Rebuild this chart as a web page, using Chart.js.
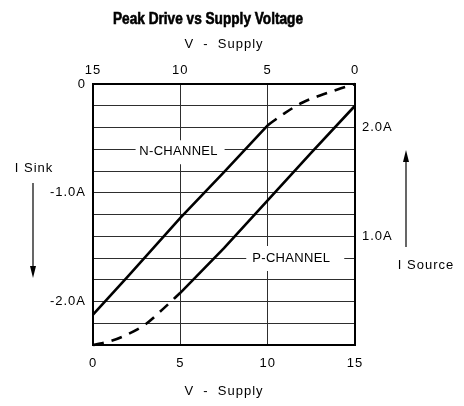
<!DOCTYPE html>
<html>
<head>
<meta charset="utf-8">
<script src="https://cdn.jsdelivr.net/npm/chart.js@4.4.1/dist/chart.umd.min.js"></script>
<style>
  html, body { margin: 0; padding: 0; background: #fff; }
  #wrap { width: 464px; height: 406px; }
</style>
</head>
<body>
<div id="wrap"><canvas id="driveChart" width="464" height="406"></canvas></div>
<script>
// N-channel sink current (top V axis, left I axis)
const nSolidVolts = [15, 13, 10, 7.5, 5];
const nSolidAmps  = [-2.12, -1.77, -1.23, -0.81, -0.38];
const nDashVolts  = [5, 4, 3, 2, 1, 0];
const nDashAmps   = [-0.38, -0.265, -0.17, -0.105, -0.05, 0];

// P-channel source current (bottom V axis, right I axis)
const pDashVolts  = [0, 1, 2, 3, 4, 5];
const pDashAmps   = [0, 0.035, 0.10, 0.19, 0.33, 0.48];
const pSolidVolts = [5, 7.5, 10, 12.5, 15];
const pSolidAmps  = [0.48, 0.89, 1.33, 1.77, 2.2];

const voltTicks = [0, 5, 10, 15];
const sinkLabels = { '0': '0', '-1': '-1.0A', '-2': '-2.0A' };
const sourceLabels = { '1': '1.0A', '2': '2.0A' };

const tickFont = { family: "'Liberation Sans', Arial, sans-serif", size: 13 };
const gridColor = '#2e2e2e';

function pts(xs, ys) {
  return xs.map((x, i) => ({ x: x, y: ys[i] }));
}
function key(v) {
  return String(Math.round(v * 10) / 10);
}

function drawArrow(ctx, x, y0, y1) {
  const dir = y1 > y0 ? 1 : -1;
  ctx.beginPath();
  ctx.moveTo(x, y0);
  ctx.lineTo(x, y1 - dir * 8);
  ctx.stroke();
  ctx.beginPath();
  ctx.moveTo(x, y1);
  ctx.lineTo(x - 3, y1 - dir * 12);
  ctx.lineTo(x + 3, y1 - dir * 12);
  ctx.closePath();
  ctx.fill();
}

function labelBox(ctx, text, cx, cy, left, right, top, bottom) {
  ctx.fillStyle = '#fff';
  ctx.fillRect(cx - left, cy - top, left + right, top + bottom);
  ctx.fillStyle = '#000';
  ctx.textAlign = 'center';
  ctx.textBaseline = 'middle';
  ctx.fillText(text, cx, cy);
}

const extras = {
  id: 'extras',
  beforeDraw(chart) {
    chart.ctx.letterSpacing = '1px';
  },
  beforeDatasetsDraw(chart) {
    const ctx = chart.ctx;
    const xb = chart.scales.x, xt = chart.scales.x2;
    const yl = chart.scales.y, yr = chart.scales.y2;
    ctx.save();
    ctx.letterSpacing = '0.3px';
    ctx.font = "13px 'Liberation Sans', Arial, sans-serif";
    // channel labels sit on grid lines and blank them out
    labelBox(ctx, 'N-CHANNEL', xt.getPixelForValue(10.1), yl.getPixelForValue(-0.6) + 2, 43, 46, 11, 13);
    labelBox(ctx, 'P-CHANNEL', xb.getPixelForValue(11.35), yr.getPixelForValue(0.8), 45, 53, 12, 13);
    ctx.restore();
  },
  afterDraw(chart) {
    const ctx = chart.ctx;
    const a = chart.chartArea;
    ctx.save();
    ctx.fillStyle = '#000';
    ctx.strokeStyle = '#000';
    ctx.lineWidth = 1.2;
    ctx.letterSpacing = '1px';
    ctx.font = "13px 'Liberation Sans', Arial, sans-serif";
    ctx.textAlign = 'center';
    ctx.textBaseline = 'middle';
    ctx.fillText('I Sink', a.left - 59, a.top + 84);
    drawArrow(ctx, a.left - 60, a.top + 99, a.top + 194);
    ctx.fillText('I Source', a.right + 71, a.top + 181);
    drawArrow(ctx, a.right + 51, a.top + 163, a.top + 66);

    // condensed bold title
    ctx.letterSpacing = '0px';
    ctx.font = "bold 16px 'Liberation Sans', Arial, sans-serif";
    const title = 'Peak Drive vs Supply Voltage';
    const w = ctx.measureText(title).width;
    const sx = Math.min(1, 190 / w);
    ctx.translate(208, 20);
    ctx.scale(sx, 1);
    ctx.lineWidth = 0.6;
    ctx.strokeText(title, 0, 0);
    ctx.fillText(title, 0, 0);
    ctx.restore();
  }
};

const lineBase = {
  showLine: true,
  pointRadius: 0,
  pointHoverRadius: 0,
  borderColor: '#000',
  backgroundColor: '#000',
  borderWidth: 2.6,
  fill: false,
  clip: 4
};

const chartEl = document.getElementById('driveChart').getContext('2d');
new Chart(chartEl, {
  type: 'scatter',
  data: {
    datasets: [
      Object.assign({}, lineBase, { label: 'N-CHANNEL', data: pts(nSolidVolts, nSolidAmps), xAxisID: 'x2', yAxisID: 'y', tension: 0 }),
      Object.assign({}, lineBase, { label: 'N-CHANNEL low', data: pts(nDashVolts, nDashAmps), xAxisID: 'x2', yAxisID: 'y', borderDash: [11, 8], cubicInterpolationMode: 'monotone' }),
      Object.assign({}, lineBase, { label: 'P-CHANNEL low', data: pts(pDashVolts, pDashAmps), xAxisID: 'x', yAxisID: 'y2', borderDash: [11, 8], cubicInterpolationMode: 'monotone' }),
      Object.assign({}, lineBase, { label: 'P-CHANNEL', data: pts(pSolidVolts, pSolidAmps), xAxisID: 'x', yAxisID: 'y2', tension: 0 })
    ]
  },
  options: {
    responsive: false,
    animation: false,
    devicePixelRatio: 1,
    layout: { padding: 0 },
    plugins: {
      legend: { display: false },
      title: { display: false },
      tooltip: { enabled: false }
    },
    scales: {
      x: {
        type: 'linear',
        position: 'bottom',
        min: 0,
        max: 15,
        afterBuildTicks: s => { s.ticks = voltTicks.map(v => ({ value: v })); },
        afterFit: s => { s.height = 61; },
        grid: { color: gridColor, lineWidth: 1, drawTicks: false },
        border: { color: '#000', width: 2 },
        ticks: { color: '#000', font: tickFont, padding: 11, maxRotation: 0, autoSkip: false },
        title: { display: true, text: 'V  -  Supply', color: '#000', font: tickFont, padding: { top: 0, bottom: 7 } }
      },
      x2: {
        type: 'linear',
        position: 'top',
        min: 0,
        max: 15,
        reverse: true,
        afterBuildTicks: s => { s.ticks = voltTicks.map(v => ({ value: v })); },
        afterFit: s => { s.height = 84; },
        grid: { color: 'rgba(0,0,0,0)', drawTicks: false },
        border: { color: '#000', width: 2 },
        ticks: { color: '#000', font: tickFont, padding: 6, maxRotation: 0, autoSkip: false },
        title: { display: true, text: 'V  -  Supply', color: '#000', font: tickFont, padding: { top: 37, bottom: 0 } }
      },
      y: {
        type: 'linear',
        position: 'left',
        min: -2.4,
        max: 0,
        afterFit: s => { s.width = 93; },
        grid: { color: gridColor, lineWidth: 1, drawTicks: false },
        border: { color: '#000', width: 2 },
        ticks: {
          stepSize: 0.2,
          autoSkip: false,
          color: '#000',
          font: tickFont,
          padding: 7,
          callback: v => sinkLabels[key(v)] || ''
        }
      },
      y2: {
        type: 'linear',
        position: 'right',
        min: 0,
        max: 2.4,
        afterFit: s => { s.width = 109; },
        grid: { color: 'rgba(0,0,0,0)', drawTicks: false },
        border: { color: '#000', width: 2 },
        ticks: {
          stepSize: 0.2,
          autoSkip: false,
          color: '#000',
          font: tickFont,
          padding: 7,
          callback: v => sourceLabels[key(v)] || ''
        }
      }
    }
  },
  plugins: [extras]
});
</script>
</body>
</html>
